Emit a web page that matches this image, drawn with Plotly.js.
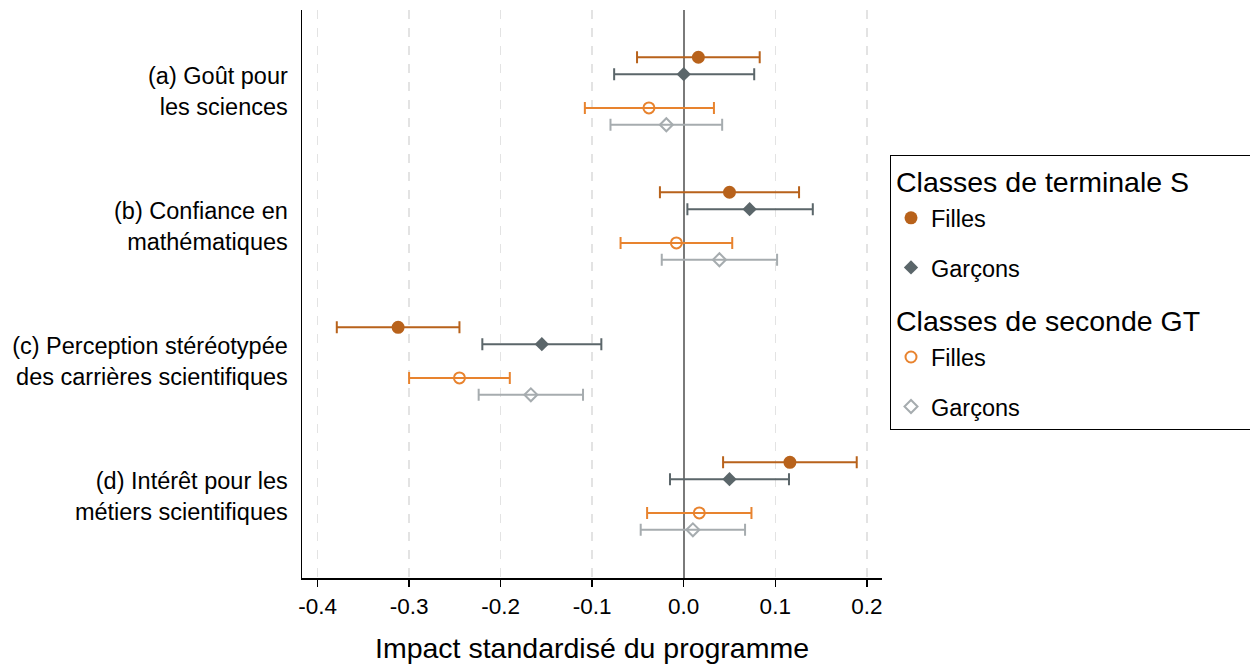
<!DOCTYPE html>
<html>
<head>
<meta charset="utf-8">
<script src="https://cdn.plot.ly/plotly-3.0.1.min.js"></script>
<style>html,body{margin:0;padding:0;background:#fff;}#chart{width:1250px;height:666px;}</style>
</head>
<body>
<div id="chart"></div>
<script>
// Outcome categories (top to bottom)
const categories = [
  "(a) Goût pour<br>les sciences",
  "(b) Confiance en<br>mathématiques",
  "(c) Perception stéréotypée<br>des carrières scientifiques",
  "(d) Intérêt pour les<br>métiers scientifiques"
];

// Classes de terminale S - Filles
const termFillesEst  = [0.016, 0.050, -0.312, 0.116];
const termFillesLow  = [-0.051, -0.026, -0.379, 0.043];
const termFillesHigh = [0.083, 0.126, -0.245, 0.189];

// Classes de terminale S - Garçons
const termGarconsEst  = [0.000, 0.072, -0.155, 0.050];
const termGarconsLow  = [-0.076, 0.004, -0.220, -0.015];
const termGarconsHigh = [0.077, 0.141, -0.090, 0.115];

// Classes de seconde GT - Filles
const secFillesEst  = [-0.038, -0.008, -0.245, 0.017];
const secFillesLow  = [-0.108, -0.069, -0.300, -0.040];
const secFillesHigh = [0.033, 0.053, -0.190, 0.074];

// Classes de seconde GT - Garçons
const secGarconsEst  = [-0.019, 0.039, -0.167, 0.010];
const secGarconsLow  = [-0.080, -0.024, -0.224, -0.047];
const secGarconsHigh = [0.042, 0.102, -0.110, 0.067];

const xTickVals = [-0.4, -0.3, -0.2, -0.1, 0.0, 0.1, 0.2];
const xTickText = ["-0.4", "-0.3", "-0.2", "-0.1", "0.0", "0.1", "0.2"];

const FONT = "Liberation Sans, Arial, Helvetica, sans-serif";
const n = categories.length;
const catPos = categories.map((c, i) => n - i);
const PAD = "\u00A0\u00A0\u00A0\u00A0\u00A0"; // widens the legend box to match the reference

function mk(est, lo, hi, offset, name, group, groupTitle, color, symbol, size, lw) {
  const t = {
    type: "scatter",
    mode: "markers",
    x: est,
    y: catPos.map(p => p + offset),
    name: name,
    legendgroup: group,
    marker: {
      color: color,
      symbol: symbol,
      size: size,
      line: {color: color, width: lw}
    },
    error_x: {
      type: "data",
      symmetric: false,
      array: hi.map((h, i) => h - est[i]),
      arrayminus: est.map((e, i) => e - lo[i]),
      color: color,
      thickness: 2,
      width: 6
    },
    hoverinfo: "x+name"
  };
  if (groupTitle) {
    t.legendgrouptitle = {text: groupTitle, font: {family: FONT, size: 28.5, color: "#000"}};
  }
  return t;
}

const data = [
  mk(termFillesEst, termFillesLow, termFillesHigh, 0.25, "Filles", "g1", "Classes de terminale S", "#B8621B", "circle", 13, 0),
  mk(termGarconsEst, termGarconsLow, termGarconsHigh, 0.125, "Garçons", "g2", null, "#5B666A", "diamond", 11, 0),
  mk(secFillesEst, secFillesLow, secFillesHigh, -0.125, "Filles", "g3", "Classes de seconde GT" + PAD, "#E8832E", "circle-open", 11, 2),
  mk(secGarconsEst, secGarconsLow, secGarconsHigh, -0.25, "Garçons", "g4", null, "#A6ACAF", "diamond-open", 10, 2)
];

const layout = {
  width: 1250,
  height: 666,
  paper_bgcolor: "#fff",
  plot_bgcolor: "#fff",
  margin: {l: 302, r: 368, t: 10, b: 88, autoexpand: false},
  font: {family: FONT, color: "#000"},
  showlegend: true,
  xaxis: {
    range: [-0.417, 0.2166],
    tickvals: xTickVals,
    ticktext: xTickText,
    tickfont: {family: FONT, size: 22.5, color: "#000"},
    ticks: "outside",
    ticklen: 7,
    tickwidth: 1.5,
    tickcolor: "#000",
    showline: true,
    linecolor: "#000",
    linewidth: 1.5,
    showgrid: true,
    gridcolor: "#E3E3E3",
    gridwidth: 1.5,
    griddash: "dash",
    zeroline: true,
    zerolinecolor: "#7A7A7A",
    zerolinewidth: 2,
    title: {text: "Impact standardisé du programme", font: {family: FONT, size: 28.5, color: "#000"}, standoff: 20},
    fixedrange: true
  },
  yaxis: {
    range: [0.393, 4.6],
    tickvals: catPos,
    ticktext: categories,
    tickfont: {family: FONT, size: 23.5, color: "#000"},
    ticks: "",
    ticklabelstandoff: 8,
    showline: true,
    linecolor: "#000",
    linewidth: 1.5,
    showgrid: false,
    zeroline: false,
    fixedrange: true
  },
  legend: {
    x: 1.0138,
    xanchor: "left",
    y: 0.7447,
    yanchor: "top",
    bordercolor: "#000",
    borderwidth: 1,
    bgcolor: "#fff",
    font: {family: FONT, size: 23.5, color: "#000"},
    traceorder: "grouped",
    tracegroupgap: 16,
    itemclick: false,
    itemdoubleclick: false
  }
};

Plotly.newPlot("chart", data, layout, {displayModeBar: false, staticPlot: true});
</script>
</body>
</html>
